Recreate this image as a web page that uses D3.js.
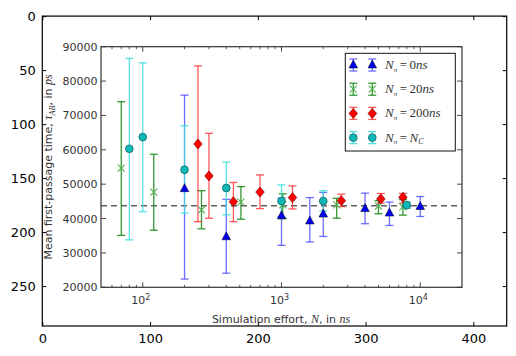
<!DOCTYPE html>
<html><head><meta charset="utf-8">
<script src="https://cdn.jsdelivr.net/npm/d3@7/dist/d3.min.js"></script>
<style>body{margin:0;background:#fff}svg{display:block}</style>
</head><body>
<svg id="c" width="516" height="356"></svg>
<script>
// outer (image) axes ticks
const outerXTicks = [0,100,200,300,400];
const outerYTicks = [0,50,100,150,200,250];
// inner chart data
const yTicks = [20000,30000,40000,50000,60000,70000,80000,90000];
const xMajor = [100,1000,10000];
const refLine = 43700;

const blueX  = [200,400,1000,1600,2000,4000,6000,10000];
const blueY  = [48700,34700,40800,39300,41300,42900,41600,43500];
const blueLo = [22400,24100,32200,33200,34800,38500,38000,40600];
const blueHi = [75900,45600,45900,46100,47600,47400,44800,46400];

const greenX  = [70,120,265,510,1020,2500,5000,7500];
const greenY  = [54700,47700,42500,44800,44000,44000,43600,43400];
const greenLo = [35100,36600,37000,39800,40000,40100,41400,41000];
const greenHi = [74000,58700,48100,49300,47200,45900,45200,45500];

const redX  = [250,300,450,700,1200,2700,5200,7500];
const redY  = [61700,52400,44900,47700,46100,45200,45700,46200];
const redLo = [39100,40100,39100,42900,42800,43500,44500,44500];
const redHi = [84400,64800,50500,52700,49500,47100,47300,47300];

const cyanX  = [80,100,200,400,1000,2000,8000];
const cyanY  = [60300,63700,54200,48900,45100,45100,43900];
const cyanLo = [33800,42000,41600,41100,40600,42200,43000];
const cyanHi = [86600,85300,67000,56400,49800,48100,44800];

const legendLabels = ["0","20","200","C"];

const svg = d3.select("#c");
// ---------- outer axes ----------
const ox = d3.scaleLinear().domain([-0.5,430.5]).range([42.3,506.7]);
const oy = d3.scaleLinear().domain([-0.5,286.5]).range([16.1,326]);

// ---------- inner chart ----------
const g = svg.append("g").attr("class","inner");
const x = d3.scaleLog().domain([50,20000]).range([101,462]);
const y = d3.scaleLinear().domain([20000,90000]).range([287.3,46.7]);
const frame = "#333";

// minor + major ticks on x (top and bottom, inward)
const minors = [];
[10,100,1000,10000].forEach(d=>{for(let k=2;k<=9;k++){const v=d*k; if(v>50&&v<20000) minors.push(v);}});
minors.forEach(v=>{
  g.append("line").attr("x1",x(v)).attr("x2",x(v)).attr("y1",y.range()[0]).attr("y2",y.range()[0]-2.5).attr("stroke",frame).attr("stroke-width",0.8);
  g.append("line").attr("x1",x(v)).attr("x2",x(v)).attr("y1",y.range()[1]).attr("y2",y.range()[1]+2.5).attr("stroke",frame).attr("stroke-width",0.8);
});
xMajor.forEach(v=>{
  g.append("line").attr("x1",x(v)).attr("x2",x(v)).attr("y1",y.range()[0]).attr("y2",y.range()[0]-5).attr("stroke",frame).attr("stroke-width",0.9);
  g.append("line").attr("x1",x(v)).attr("x2",x(v)).attr("y1",y.range()[1]).attr("y2",y.range()[1]+5).attr("stroke",frame).attr("stroke-width",0.9);
  const t = g.append("text").attr("x",x(v)-2).attr("y",304).attr("text-anchor","middle")
    .attr("font-family","DejaVu Sans").attr("font-size",11).attr("fill","#333");
  t.append("tspan").text("10");
  t.append("tspan").attr("dy",-4.5).attr("font-size",8).text(Math.round(Math.log10(v)));
});
yTicks.forEach(v=>{
  g.append("line").attr("x1",x.range()[0]).attr("x2",x.range()[0]+5).attr("y1",y(v)).attr("y2",y(v)).attr("stroke",frame).attr("stroke-width",0.9);
  g.append("line").attr("x1",x.range()[1]).attr("x2",x.range()[1]-5).attr("y1",y(v)).attr("y2",y(v)).attr("stroke",frame).attr("stroke-width",0.9);
  g.append("text").attr("x",97.5).attr("y",y(v)).attr("dy","0.36em").attr("text-anchor","end")
    .attr("font-family","DejaVu Sans").attr("font-size",11).attr("fill","#333").text(v);
});

// dashed reference line
g.append("line").attr("x1",x.range()[0]).attr("x2",x.range()[1]).attr("y1",y(refLine)).attr("y2",y(refLine))
  .attr("stroke","#111").attr("stroke-width",1).attr("stroke-dasharray","6,4");

const series = [
  {X:blueX,Y:blueY,L:blueLo,H:blueHi,bar:"#3c3cff",barOp:0.75,marker:"tri",fill:"#0000ee"},
  {X:greenX,Y:greenY,L:greenLo,H:greenHi,bar:"#1e8c1e",barOp:0.9,marker:"x",fill:"#50b050"},
  {X:redX,Y:redY,L:redLo,H:redHi,bar:"#ff2020",barOp:0.75,marker:"dia",fill:"#ff0000"},
  {X:cyanX,Y:cyanY,L:cyanLo,H:cyanHi,bar:"#3cdcdc",barOp:0.85,marker:"circ",fill:"#10b8b8"}
];

function drawMarker(sel,type,cx,cy,fill){
  if(type==="tri"){
    sel.append("path").attr("d",`M${cx},${cy-5}L${cx+4.3},${cy+3}L${cx-4.3},${cy+3}Z`)
      .attr("fill",fill).attr("stroke","#001").attr("stroke-width",0.5);
  } else if(type==="x"){
    sel.append("path").attr("d",`M${cx-3.5},${cy-3.5}L${cx+3.5},${cy+3.5}M${cx-3.5},${cy+3.5}L${cx+3.5},${cy-3.5}`)
      .attr("stroke",fill).attr("stroke-width",1.1).attr("fill","none");
  } else if(type==="dia"){
    sel.append("path").attr("d",`M${cx},${cy-5}L${cx+4.3},${cy}L${cx},${cy+5}L${cx-4.3},${cy}Z`)
      .attr("fill",fill).attr("stroke","#600").attr("stroke-width",0.6);
  } else {
    sel.append("circle").attr("cx",cx).attr("cy",cy).attr("r",3.9)
      .attr("fill",fill).attr("stroke","#044").attr("stroke-width",0.6);
  }
}
function drawBar(sel,cx,y1,y2,color,op){
  const b = sel.append("g").attr("stroke",color).attr("stroke-opacity",op).attr("stroke-width",1.3);
  b.append("line").attr("x1",cx).attr("x2",cx).attr("y1",y1).attr("y2",y2);
  b.append("line").attr("x1",cx-4).attr("x2",cx+4).attr("y1",y1).attr("y2",y1);
  b.append("line").attr("x1",cx-4).attr("x2",cx+4).attr("y1",y2).attr("y2",y2);
}

series.forEach(s=>{
  const sg = g.append("g");
  s.X.forEach((v,i)=>drawBar(sg,x(v),y(s.H[i]),y(s.L[i]),s.bar,s.barOp));
});
series.forEach(s=>{
  const sg = g.append("g");
  s.X.forEach((v,i)=>drawMarker(sg,s.marker,x(v),y(s.Y[i]),s.fill));
});

// inner frame
g.append("rect").attr("x",x.range()[0]).attr("y",y.range()[1]).attr("width",x.range()[1]-x.range()[0])
  .attr("height",y.range()[0]-y.range()[1]).attr("fill","none").attr("stroke",frame).attr("stroke-width",1.2);

// legend
const lg = g.append("g");
lg.append("rect").attr("x",345.3).attr("y",53.3).attr("width",110).attr("height",97.7)
  .attr("fill","#fff").attr("stroke","#111").attr("stroke-width",1);
series.forEach((s,i)=>{
  const cy = 65 + i*24.2;
  [353.3,372.3].forEach(cx=>{
    drawBar(lg,cx,cy-6,cy+6,s.bar,s.barOp);
    drawMarker(lg,s.marker,cx,cy,s.fill);
  });
  const t = lg.append("text").attr("x",385).attr("y",cy+4).attr("font-family","Liberation Serif")
    .attr("font-size",13).attr("fill","#333");
  t.append("tspan").attr("font-style","italic").text("N");
  t.append("tspan").attr("font-size",7).attr("dy",2.5).text("π");
  t.append("tspan").attr("dy",-2.5).attr("dx",2.5).text("=");
  if(legendLabels[i]==="C"){
    t.append("tspan").attr("dx",2.5).attr("font-style","italic").text("N");
    t.append("tspan").attr("font-style","italic").attr("font-size",8).attr("dy",2.5).text("C");
  } else {
    t.append("tspan").attr("dx",2.5).text(legendLabels[i]);
    t.append("tspan").attr("font-style","italic").text("ns");
  }
});

// axis labels
const xl = g.append("text").attr("x",281).attr("y",323).attr("text-anchor","middle")
  .attr("font-family","DejaVu Sans").attr("font-size",11).attr("fill","#333");
xl.append("tspan").text("Simulation effort, ");
xl.append("tspan").attr("font-family","Liberation Serif").attr("font-style","italic").attr("font-size",12).text("N");
xl.append("tspan").text(", in ");
xl.append("tspan").attr("font-family","Liberation Serif").attr("font-style","italic").attr("font-size",12).text("ns");

const yl = g.append("text").attr("transform","translate(52,167) rotate(-90)").attr("text-anchor","middle")
  .attr("font-family","DejaVu Sans").attr("font-size",11).attr("fill","#333");
yl.append("tspan").text("Mean first-passage time, ");
yl.append("tspan").attr("font-family","Liberation Serif").attr("font-style","italic").attr("font-size",12).text("τ");
yl.append("tspan").attr("font-family","Liberation Serif").attr("font-style","italic").attr("font-size",8).attr("dy",2.5).text("AB");
yl.append("tspan").attr("dy",-2.5).text(", in ");
yl.append("tspan").attr("font-family","Liberation Serif").attr("font-style","italic").attr("font-size",12).text("ps");

// ---------- outer axes drawn on top ----------
const oa = svg.append("g");
oa.append("rect").attr("x",ox.range()[0]).attr("y",oy.range()[0]).attr("width",ox.range()[1]-ox.range()[0])
  .attr("height",oy.range()[1]-oy.range()[0]).attr("fill","none").attr("stroke","#000").attr("stroke-width",1.2);
outerXTicks.forEach(v=>{
  oa.append("line").attr("x1",ox(v)).attr("x2",ox(v)).attr("y1",oy.range()[1]).attr("y2",oy.range()[1]-4).attr("stroke","#000");
  oa.append("line").attr("x1",ox(v)).attr("x2",ox(v)).attr("y1",oy.range()[0]).attr("y2",oy.range()[0]+4).attr("stroke","#000");
  oa.append("text").attr("x",ox(v)).attr("y",343.3).attr("text-anchor","middle")
    .attr("font-family","DejaVu Sans").attr("font-size",13).attr("fill","#000").text(v);
});
outerYTicks.forEach(v=>{
  oa.append("line").attr("x1",ox.range()[0]).attr("x2",ox.range()[0]+4).attr("y1",oy(v)).attr("y2",oy(v)).attr("stroke","#000");
  oa.append("line").attr("x1",ox.range()[1]).attr("x2",ox.range()[1]-4).attr("y1",oy(v)).attr("y2",oy(v)).attr("stroke","#000");
  oa.append("text").attr("x",35.7).attr("y",oy(v)).attr("dy","0.36em").attr("text-anchor","end")
    .attr("font-family","DejaVu Sans").attr("font-size",13).attr("fill","#000").text(v);
});
</script>
</body></html>
